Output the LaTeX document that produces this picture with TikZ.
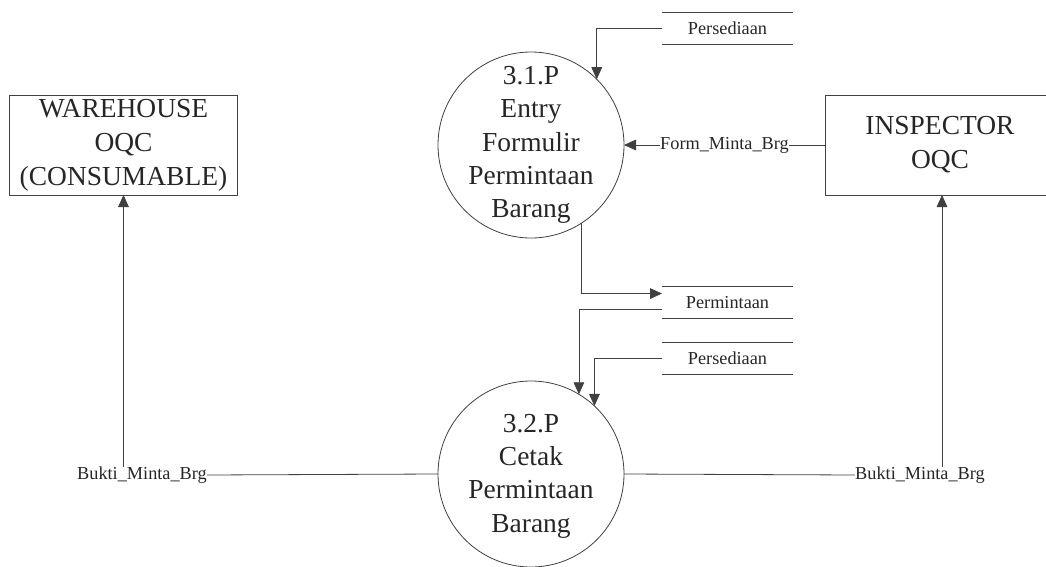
\documentclass[tikz,border=0pt]{standalone}
\usepackage{fontspec}
\setmainfont{Liberation Serif}
\usetikzlibrary{arrows.meta,calc}
\begin{document}
\begin{tikzpicture}[x=0.75pt,y=-0.75pt,
  line/.style={draw=black!75,line width=0.6pt},
  flow/.style={line,-{Triangle[length=9pt,width=8pt]}},
  entity/.style={draw=black!75,line width=0.6pt,minimum width=171.5pt,minimum height=75pt,
    inner sep=0pt,outer sep=0pt,align=center,text=black!85,font=\fontsize{20.6}{25.5}\selectfont},
  process/.style={circle,draw=black!75,line width=0.6pt,minimum size=139.5pt,inner sep=0pt,outer sep=0pt},
  ptext/.style={align=center,inner sep=0pt,text=black!85,font=\fontsize{20.6}{25}\selectfont},
  store/.style={minimum width=98.25pt,minimum height=24pt,inner sep=0pt,outer sep=0pt,
    text=black!85,font=\fontsize{13.7}{16}\selectfont},
  flowlabel/.style={inner sep=0pt,outer sep=0pt,text=black!85,font=\fontsize{13.7}{16}\selectfont}]
\useasboundingbox (0,0) rectangle (1046,567);

% external entities
\node[entity] (e1) at (123.5,145) {WAREHOUSE\\OQC\\(CONSUMABLE)};
\node[entity] (e2) at (940,145) {INSPECTOR\\OQC};

% processes
\node[process] (p1) at (531,145) {};
\node[ptext] (p1t) at (p1.center) {3.1.P\\Entry\\Formulir\\Permintaan\\Barang};
\node[process] (p2) at (531,474) {};
\node[ptext] (p2t) at ([yshift=-1.5pt]p2.center) {3.2.P\\Cetak\\Permintaan\\Barang};

% data stores
\node[store] (s1) at (727.5,28.5) {Persediaan};
\node[store] (s2) at (727.5,302.5) {Permintaan};
\node[store] (s3) at (727.5,358.5) {Persediaan};
\foreach \s in {s1,s2,s3}{
  \draw[line] (\s.north west) -- (\s.north east);
  \draw[line] (\s.south west) -- (\s.south east);
}

% flows into and out of 3.1.P
\draw[flow] (s1.west) -| (p1.45);
\node[flowlabel] (fm) at (724.5,145) {Form\_Minta\_Brg};
\draw[line] (e2.west) -- (fm.east);
\draw[flow] (fm.west) -- (p1.east);
\coordinate (s2in) at ($(s2.north west)!0.22!(s2.south west)$);
\coordinate (s2out) at ($(s2.north west)!0.70!(s2.south west)$);
\draw[flow] (p1.-57.5) |- (s2in);

% flows into 3.2.P
\draw[flow] (s2out) -| (p2.59);
\draw[flow] (s3.west) -| (p2.47.4);

% flows out of 3.2.P
\node[flowlabel] (bl) at (142,475) {Bukti\_Minta\_Brg};
\node[flowlabel] (br) at (920,475) {Bukti\_Minta\_Brg};
\draw[line] (p2.west) -- (bl.east);
\draw[flow] (e1.south |- bl.north) -- (e1.south);
\draw[line] (p2.east) -- (br.west);
\draw[flow] ([xshift=1.5pt]e2.south |- br.north) -- ([xshift=1.5pt]e2.south);
\end{tikzpicture}
\end{document}
